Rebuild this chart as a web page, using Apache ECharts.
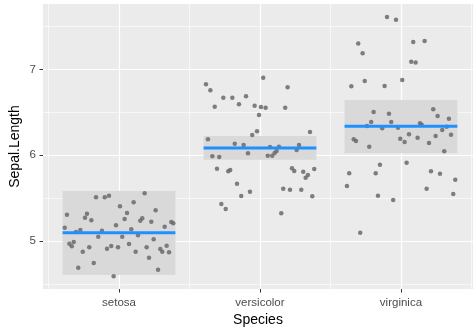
<!DOCTYPE html>
<html>
<head>
<meta charset="utf-8">
<script src="https://cdn.jsdelivr.net/npm/echarts@6/dist/echarts.min.js"></script>
<style>
  html, body { margin: 0; padding: 0; background: #ffffff; }
  #chart { width: 473px; height: 328px; }
</style>
</head>
<body>
<div id="chart"></div>
<script>
// Iris sepal length by species: jittered observations with a summary crossbar.
const species = ['setosa', 'versicolor', 'virginica'];
const yTicks = [5, 6, 7];
const yMinorTicks = [4.5, 5.5, 6.5, 7.5];
const xTicks = [1, 2, 3];
const xMinorTicks = [0.5, 1.5, 2.5, 3.5];

// Jittered horizontal positions (category index scale) and sepal lengths
const setosaPos = [0.631, 0.615, 0.648, 0.665, 0.679, 0.695, 0.726, 0.743, 0.711, 0.759,
  0.773, 0.804, 0.789, 0.821, 0.837, 0.853, 0.879, 0.899, 0.929, 0.915,
  0.945, 0.962, 0.979, 0.993, 1.007, 1.023, 1.040, 1.057, 1.087, 1.071,
  1.104, 1.118, 1.135, 1.151, 1.165, 1.182, 1.196, 1.213, 1.229, 1.246,
  1.260, 1.277, 1.293, 1.307, 1.324, 1.338, 1.355, 1.371, 1.385];
const setosaLen = [5.309, 5.158, 4.972, 4.942, 4.992, 5.108, 5.131, 4.879, 4.693, 5.274,
  5.321, 5.244, 4.930, 4.748, 5.512, 5.053, 5.123, 5.512, 5.530, 4.914,
  4.945, 4.593, 5.186, 4.930, 5.407, 5.053, 5.259, 5.329, 5.140, 4.969,
  5.453, 4.879, 5.070, 5.240, 5.267, 5.558, 4.930, 4.809, 5.228, 5.023,
  5.360, 4.670, 4.910, 4.879, 5.170, 4.949, 4.872, 5.224, 5.209];

const versicolorPos = [1.617, 1.648, 1.679, 1.740, 1.804, 1.851, 1.901, 1.962, 2.007, 2.040,
  1.993, 2.023, 2.196, 2.179, 1.979, 1.945, 1.631, 1.821, 1.884, 1.662,
  1.711, 1.915, 2.071, 2.055, 2.087, 2.104, 2.118, 2.135, 2.260, 2.277,
  2.355, 1.695, 1.775, 1.789, 1.837, 1.867, 1.929, 1.726, 1.757, 2.151,
  2.165, 2.213, 2.227, 2.243, 2.293, 2.307, 2.324, 2.340, 2.371, 2.385];
const versicolorLen = [6.826, 6.756, 6.565, 6.670, 6.670, 6.593, 6.686, 6.577, 6.562, 6.553,
  6.469, 6.902, 6.791, 6.553, 6.279, 6.236, 6.186, 6.135, 6.120, 5.988,
  5.980, 6.023, 6.097, 5.995, 5.995, 6.027, 6.050, 6.100, 6.062, 6.120,
  6.271, 5.844, 5.814, 5.829, 5.670, 5.527, 5.577, 5.434, 5.376, 5.326,
  5.612, 5.600, 5.849, 5.817, 5.600, 5.809, 5.740, 5.771, 5.523, 5.841];

const virginicaPos = [2.901, 2.965, 2.697, 2.728, 3.087, 3.168, 3.073, 3.104, 2.648, 2.743,
  2.884, 3.009, 2.806, 2.915, 2.789, 2.931, 3.229, 3.260, 3.340, 3.135,
  2.759, 2.867, 2.979, 3.147, 3.293, 3.324, 2.665, 2.681, 2.775, 2.995,
  3.026, 3.057, 3.118, 3.199, 3.246, 3.355, 3.307, 2.851, 2.633, 2.821,
  2.617, 2.837, 2.945, 3.040, 3.213, 3.277, 3.385, 3.182, 3.371, 2.711];
const virginicaLen = [7.608, 7.577, 7.302, 7.186, 7.317, 7.329, 7.088, 7.081, 6.802, 6.864,
  6.806, 6.876, 6.503, 6.484, 6.387, 6.387, 6.535, 6.457, 6.426, 6.372,
  6.341, 6.314, 6.321, 6.356, 6.294, 6.333, 6.186, 6.166, 6.100, 6.193,
  6.155, 6.244, 6.205, 6.143, 6.224, 6.240, 6.047, 5.891, 5.791, 5.791,
  5.643, 5.530, 5.480, 5.914, 5.814, 5.786, 5.716, 5.612, 5.550, 5.100];

// Summary per species: crossbar lower / upper bounds and centre line
const boxLow = [4.608, 5.949, 6.023];
const boxHigh = [5.585, 6.224, 6.643];
const centreLen = [5.100, 6.085, 6.337];

const zip = (xs, ys) => xs.map((x, i) => [x, ys[i]]);
const points = [].concat(
  zip(setosaPos, setosaLen),
  zip(versicolorPos, versicolorLen),
  zip(virginicaPos, virginicaLen)
);
const summary = xTicks.map((x, i) => [x, boxLow[i], boxHigh[i], centreLen[i]]);

const HALF = 0.4;
const FONT = '"Liberation Sans", Arial, sans-serif';

const gridLines = [].concat(
  yMinorTicks.map(v => ({ yAxis: v, lineStyle: { width: 0.6 } })),
  xMinorTicks.map(v => ({ xAxis: v, lineStyle: { width: 0.6 } })),
  yTicks.map(v => ({ yAxis: v, lineStyle: { width: 1.2 } })),
  xTicks.map(v => ({ xAxis: v, lineStyle: { width: 1.2 } }))
);

const chart = echarts.init(document.getElementById('chart'), null, { renderer: 'canvas' });
chart.setOption({
  animation: false,
  backgroundColor: '#ffffff',
  grid: {
    left: 43, right: 0, top: 4, bottom: 39,
    outerBoundsMode: 'none',
    containLabel: false,
    show: true, backgroundColor: '#EBEBEB', borderWidth: 0
  },
  xAxis: {
    type: 'value',
    min: 0.461, max: 3.511,
    name: 'Species',
    nameLocation: 'middle',
    nameGap: 24,
    nameMoveOverlap: false,
    nameTextStyle: { color: '#000000', fontSize: 14, fontFamily: FONT },
    axisLine: { show: false },
    splitLine: { show: false },
    axisTick: { show: true, customValues: xTicks, length: 3.5, lineStyle: { color: '#333333', width: 1 } },
    axisLabel: {
      customValues: xTicks,
      margin: 8,
      color: '#4D4D4D', fontSize: 11.5, fontFamily: FONT,
      formatter: v => species[Math.round(v) - 1]
    }
  },
  yAxis: {
    type: 'value',
    min: 4.445, max: 7.76,
    name: 'Sepal.Length',
    nameLocation: 'middle',
    nameGap: 21,
    nameRotate: 90,
    nameMoveOverlap: false,
    nameTextStyle: { color: '#000000', fontSize: 14, fontFamily: FONT },
    axisLine: { show: false },
    splitLine: { show: false },
    axisTick: { show: true, customValues: yTicks, length: 3.5, lineStyle: { color: '#333333', width: 1 } },
    axisLabel: {
      customValues: yTicks,
      margin: 7,
      color: '#4D4D4D', fontSize: 11.5, fontFamily: FONT,
      formatter: v => String(v)
    }
  },
  series: [
    {
      // panel grid lines
      type: 'scatter',
      data: [],
      silent: true,
      z: 1,
      markLine: {
        z: 1,
        silent: true,
        animation: false,
        symbol: ['none', 'none'],
        label: { show: false },
        emphasis: { disabled: true },
        lineStyle: { color: '#ffffff', type: 'solid' },
        data: gridLines
      }
    },
    {
      // crossbar boxes
      type: 'custom',
      z: 2,
      silent: true,
      data: summary,
      renderItem: (params, api) => {
        const x = api.value(0);
        const p1 = api.coord([x - HALF, api.value(2)]);
        const p2 = api.coord([x + HALF, api.value(1)]);
        return {
          type: 'rect',
          shape: { x: p1[0], y: p1[1], width: p2[0] - p1[0], height: p2[1] - p1[1] },
          style: { fill: '#D9D9D9' }
        };
      }
    },
    {
      type: 'scatter',
      z: 3,
      data: points,
      symbol: 'circle',
      symbolSize: 4.5,
      itemStyle: { color: '#6a6a6a', opacity: 0.85 }
    },
    {
      // centre lines
      type: 'custom',
      z: 4,
      silent: true,
      data: summary,
      renderItem: (params, api) => {
        const x = api.value(0);
        const a = api.coord([x - HALF, api.value(3)]);
        const b = api.coord([x + HALF, api.value(3)]);
        return {
          type: 'line',
          shape: { x1: a[0], y1: a[1], x2: b[0], y2: b[1] },
          style: { stroke: '#1E90FF', lineWidth: 3 }
        };
      }
    }
  ]
});
</script>
</body>
</html>
